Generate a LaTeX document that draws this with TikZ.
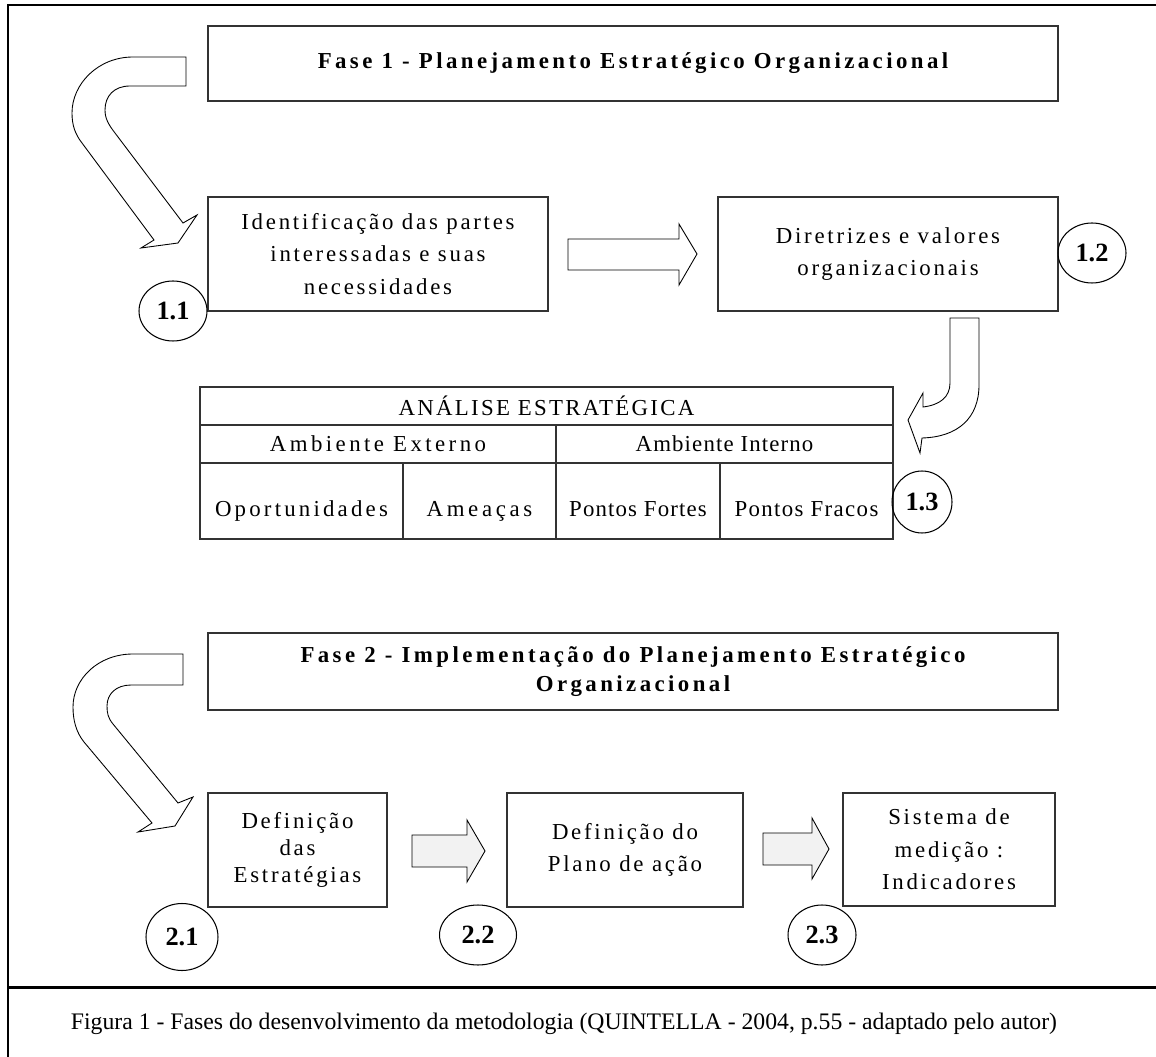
\documentclass[tikz,border=0pt]{standalone}
\usepackage{fontspec}
\setmainfont{Liberation Serif}
\newfontfamily\spaced[LetterSpace=12]{Liberation Serif}
\usetikzlibrary{shapes.geometric}
\definecolor{linec}{HTML}{333333}
\definecolor{shadec}{HTML}{F2F2F2}
\tikzset{
  outerframe/.style={draw=black, line width=1.7pt},
  stagebox/.style={draw=linec, line width=0.7pt, inner sep=0pt, align=center, font=\spaced\fontsize{13}{18.4}\selectfont},
  phasebox/.style={stagebox, font=\spaced\bfseries\fontsize{13}{16.4}\selectfont\addfontfeature{LetterSpace=15}},
  tablecell/.style={draw=linec, line width=0.7pt, inner sep=0pt, font=\spaced\fontsize{13}{16}\selectfont\addfontfeature{LetterSpace=#1}},
  tablecell/.default=12,
  lowrow/.style={text height=0.72cm, text depth=0.1cm},
  numtag/.style={ellipse, draw=black, line width=0.6pt, inner sep=0pt, minimum width=1.36cm, minimum height=1.2cm, font=\bfseries\fontsize{15}{18}\selectfont},
  bentarrow/.style={draw=black, line width=0.5pt, fill=white, line join=miter},
  blockarrow/.style={draw=black, line width=0.5pt, fill=white},
  shadedarrow/.style={blockarrow, fill=shadec},
}

\begin{document}
\begin{tikzpicture}[x=0.02cm, y=-0.02cm]
\useasboundingbox (0,0) rectangle (1156,1057);
% frame and caption
\draw[outerframe] (1156,5) -- (8,5) -- (8,1057);
\draw[outerframe] (8,987) -- (1156,987);
\node[font=\fontsize{13.5}{16}\selectfont] (caption) at (564,1024) {Figura 1 - Fases do desenvolvimento da metodologia (QUINTELLA - 2004, p.55 - adaptado pelo autor)};

% fase 1
\node[phasebox, minimum width=17cm, minimum height=1.5cm] (fase1) at (633,63.5) {Fase 1 - Planejamento Estratégico Organizacional};
\node[stagebox, minimum width=6.8cm, minimum height=2.28cm] (partes) at (378,254) {Identificação das partes\\interessadas e suas\\necessidades};
\node[stagebox, minimum width=6.8cm, minimum height=2.28cm] (diretrizes) at (888,254) {Diretrizes e valores\\organizacionais};
\node[numtag] (n11) at (173,311) {1.1};
\node[numtag] (n12) at (1092,253) {1.2};

\draw[bentarrow] (186,57) -- (133,57) .. controls (98,57) and (72,84) .. (72,113) .. controls (72,125) and (75,134) .. (82,143) -- (154,240) -- (141,248) -- (178,243) -- (197,215) -- (183,223) -- (115,133) .. controls (108,124) and (105,118) .. (105,110) .. controls (105,96) and (114,86) .. (130,86) -- (186,86) -- cycle;
\draw[blockarrow] (568,239) -- (679,239) -- (679,224) -- (697,254) -- (679,285) -- (679,270) -- (568,270) -- cycle;
\draw[bentarrow] (979,318) -- (979,385) .. controls (979,418) and (958,437) .. (922,438) -- (920,453) -- (908,420) -- (923,393) -- (923,407) .. controls (940,405) and (950,397) .. (950,383) -- (950,318) -- cycle;

% analise estrategica
\node[tablecell=10, minimum width=13.86cm, minimum height=0.76cm] (analise) at (546.5,406) {ANÁLISE ESTRATÉGICA};
\node[tablecell=15, minimum width=7.12cm, minimum height=0.76cm] (externo) at (378,444) {Ambiente Externo};
\node[tablecell=5, minimum width=6.74cm, minimum height=0.76cm] (interno) at (724.5,444) {Ambiente Interno};
\node[tablecell=14, lowrow, minimum width=4.06cm, minimum height=1.52cm] (oport) at (301.5,501) {Oportunidades};
\node[tablecell=16, lowrow, minimum width=3.06cm, minimum height=1.52cm] (ameacas) at (479.5,501) {Ameaças};
\node[tablecell=5, lowrow, minimum width=3.28cm, minimum height=1.52cm] (fortes) at (638,501) {Pontos Fortes};
\node[tablecell=6, lowrow, minimum width=3.46cm, minimum height=1.52cm] (fracos) at (806.5,501) {Pontos Fracos};
\node[numtag, minimum width=1.2cm, minimum height=1.24cm] (n13) at (922,502) {1.3};

% fase 2
\node[phasebox, minimum width=17cm, minimum height=1.54cm] (fase2) at (633,671.5) {Fase 2 - Implementação do Planejamento Estratégico\\Organizacional};
\node[stagebox, minimum width=3.58cm, minimum height=2.28cm, font=\spaced\fontsize{13}{15.4}\selectfont] (estrategias) at (297.5,850) {Definição\\das\\Estratégias};
\node[stagebox, minimum width=4.72cm, minimum height=2.28cm] (plano) at (625,850) {Definição do\\Plano de ação};
\node[stagebox, minimum width=4.24cm, minimum height=2.26cm] (medicao) at (949,849.5) {Sistema de\\medição :\\Indicadores};
\node[numtag, minimum width=1.44cm, minimum height=1.34cm] (n21) at (182,937) {2.1};
\node[numtag, minimum width=1.54cm] (n22) at (478,935) {2.2};
\node[numtag] (n23) at (822,935) {2.3};

\draw[bentarrow] (183,654) -- (133,654) .. controls (98,654) and (73,679) .. (73,707) .. controls (73,720) and (76,732) .. (84,742) -- (152,823) -- (138,832) -- (175,826) -- (193,797) -- (178,803) -- (113,724) .. controls (108,718) and (107,713) .. (107,706) .. controls (107,694) and (116,685) .. (131,685) -- (183,685) -- cycle;
\draw[shadedarrow] (412,835) -- (467,835) -- (467,820) -- (485,851) -- (467,882) -- (467,867) -- (412,867) -- cycle;
\draw[shadedarrow] (763,833) -- (812,833) -- (812,818) -- (829,849) -- (812,879) -- (812,865) -- (763,865) -- cycle;
\end{tikzpicture}
\end{document}
